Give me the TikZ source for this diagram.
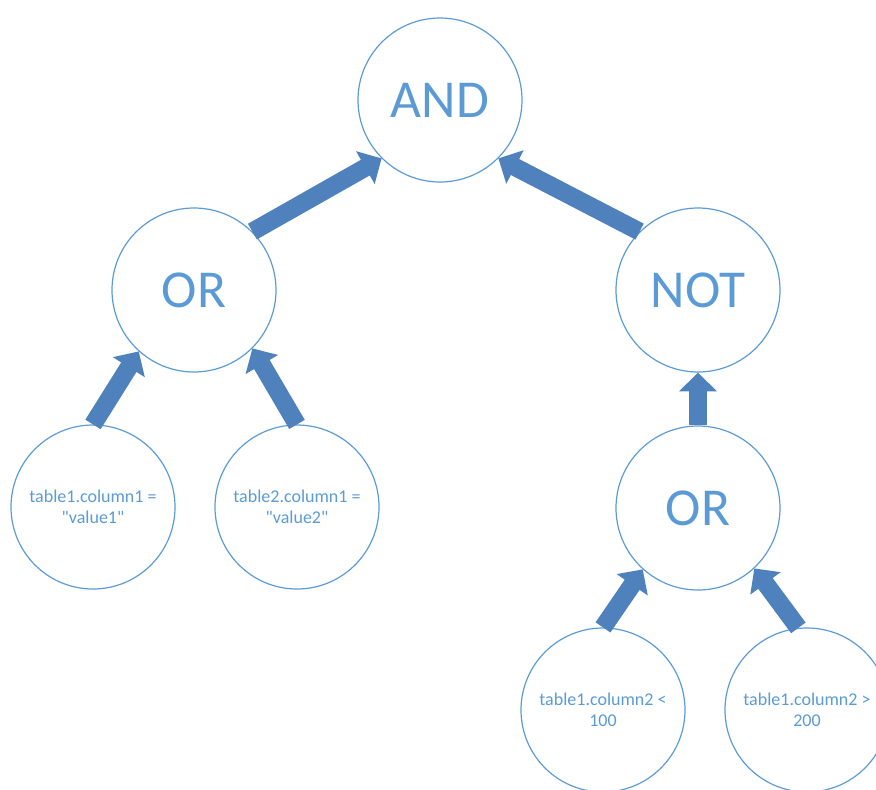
\documentclass[tikz,border=0pt]{standalone}
\usepackage{fontspec}
\setmainfont{Carlito}[Ligatures=TeXOff]
\usetikzlibrary{arrows.meta}
\definecolor{ringblue}{HTML}{5B9BD5}
\definecolor{arrowblue}{HTML}{4F81BD}
\begin{document}
\begin{tikzpicture}[x=0.75pt,y=-0.75pt,
  opnode/.style={circle, draw=ringblue, line width=0.9pt, minimum size=123pt,
    inner sep=0pt, text=ringblue, font=\fontsize{40}{48}\selectfont},
  leafnode/.style={opnode, font=\fontsize{13.5}{15.75}\selectfont, align=center},
  flow/.style={arrowblue, line width=13.5pt, line cap=butt,
    -{Triangle[width=27.5pt,length=14pt]}}]
\useasboundingbox (0,0) rectangle (876,790);
\clip (0,0) rectangle (876,790);

% operator nodes
\node[opnode] (and)  at (440,100) {AND};
\node[opnode] (orl)  at (194,290) {OR};
\node[opnode] (not)  at (698,290) {NOT};
\node[opnode] (orr)  at (698,508) {OR};

% condition leaves
\node[leafnode] (c1) at (93,507)  {table1.column1 =\\"value1"};
\node[leafnode] (c2) at (297,507) {table2.column1 =\\"value2"};
\node[leafnode] (c3) at (603,710) {table1.column2 <\\100};
\node[leafnode] (c4) at (807,710) {table1.column2 >\\200};

% block arrows from child to parent
\draw[flow] (orl.45)  -- (and.225);
\draw[flow] (not.135) -- (and.315);
\draw[flow] (c1.90)   -- (orl.228);
\draw[flow] (c2.90)   -- (orl.315);
\draw[flow] (orr.90)  -- (not.270);
\draw[flow] (c3.90)   -- (orr.228);
\draw[flow] (c4.96)   -- (orr.313);
\end{tikzpicture}
\end{document}
